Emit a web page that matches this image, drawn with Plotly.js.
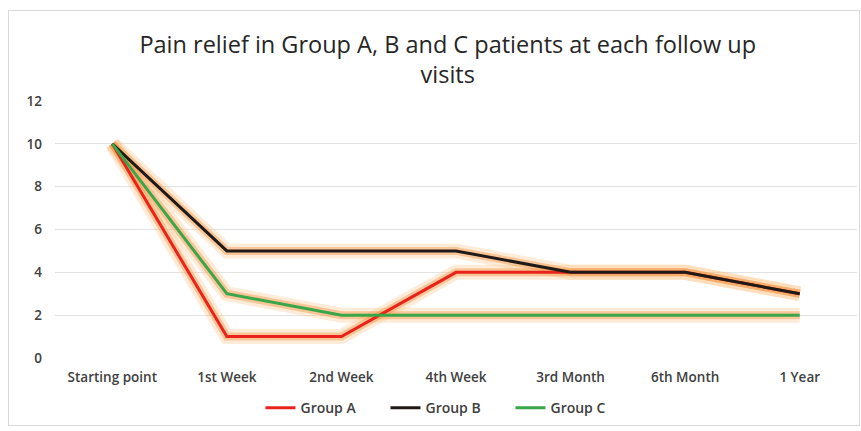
<!DOCTYPE html>
<html><head><meta charset="utf-8">
<script src="https://cdn.plot.ly/plotly-3.0.1.min.js"></script>
<style>body{margin:0;background:#fff}#c{width:861px;height:431px;position:relative}#frame{position:absolute;left:8px;top:10px;width:850px;height:414px;border:1px solid #d9d9d9;pointer-events:none}</style>
</head><body><div id="c"><div id="frame"></div></div>
<script>
const categories = ["Starting point","1st Week","2nd Week","4th Week","3rd Month","6th Month","1 Year"];
const groupA = [10,1,1,4,4,4,3];
const groupB = [10,5,5,5,4,4,3];
const groupC = [10,3,2,2,2,2,2];
const seriesNames = ["Group A","Group B","Group C"];
const seriesColors = ["#e8231b","#1f1a17","#3aa64a"];
const all = [groupA, groupB, groupC];
const traces = [];
all.forEach(function(d){
  traces.push({x:categories,y:d,type:"scatter",mode:"lines",line:{color:"rgba(252,185,120,0.28)",width:15},showlegend:false,hoverinfo:"skip"});
});
all.forEach(function(d){
  traces.push({x:categories,y:d,type:"scatter",mode:"lines",line:{color:"rgba(247,150,70,0.45)",width:8},showlegend:false,hoverinfo:"skip"});
});
all.forEach(function(d,i){
  traces.push({x:categories,y:d,type:"scatter",mode:"lines",name:seriesNames[i],line:{color:seriesColors[i],width:3}});
});
const layout = {
  width:861,height:431,
  margin:{l:55,r:4,t:101,b:73},
  paper_bgcolor:"rgba(0,0,0,0)",plot_bgcolor:"#fff",
  font:{family:"'Open Sans', sans-serif",color:"#404040",size:13},
  title:{text:"Pain relief in Group A, B and C patients at each follow up<br>visits",
    font:{size:23.5,color:"#262626",family:"'Open Sans', sans-serif"},
    x:0.52,xref:"container",xanchor:"center",y:0.878,yref:"container",yanchor:"middle"},
  xaxis:{type:"category",range:[-0.5,6.5],showgrid:false,zeroline:false,showline:false,ticks:"",
    ticklabelstandoff:9,tickfont:{size:13.5,color:"#404040",weight:600}},
  yaxis:{range:[0,12],dtick:2,showgrid:true,gridcolor:"#e3e3e3",gridwidth:1,zeroline:false,
    showline:false,ticks:"",ticklabelstandoff:12,tickfont:{size:13.5,color:"#404040",weight:600}},
  legend:{orientation:"h",x:0.49,xanchor:"center",y:-0.195,yanchor:"middle",
    font:{size:14,color:"#404040",weight:600},tracegroupgap:0,entrywidth:80,entrywidthmode:"pixels"},
  showlegend:true
};
Plotly.newPlot("c",traces,layout,{displayModeBar:false,staticPlot:true});
</script></body></html>
